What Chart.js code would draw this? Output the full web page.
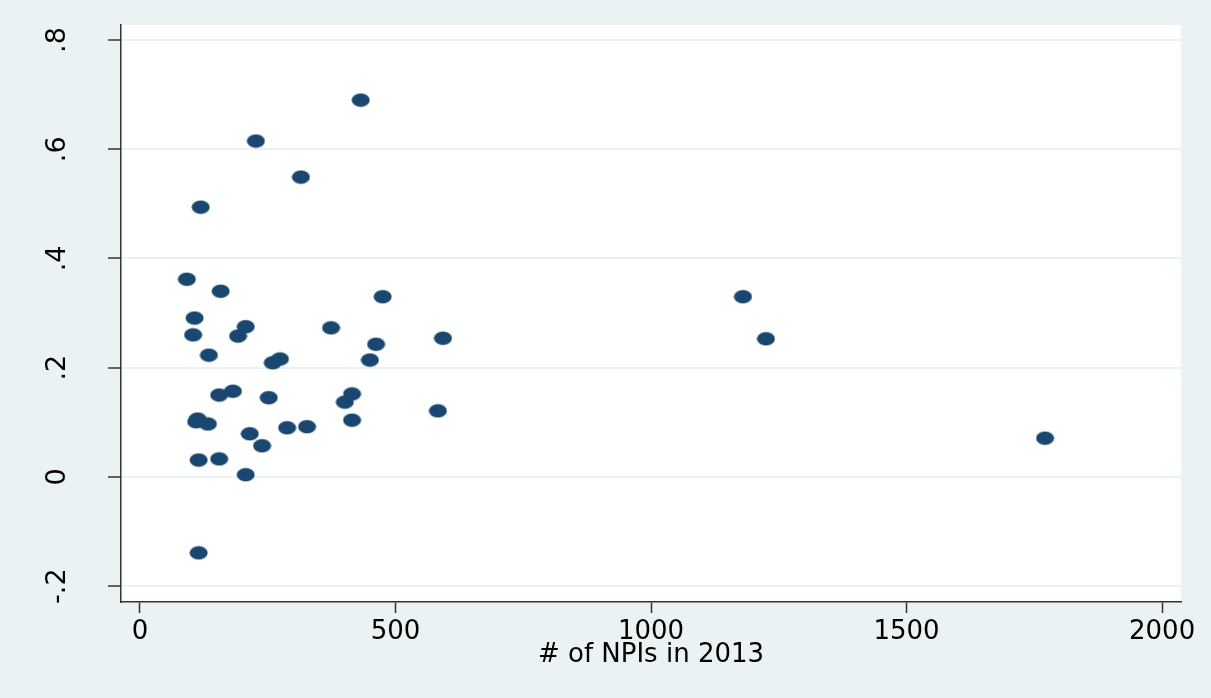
<!DOCTYPE html>
<html>
<head>
<meta charset="utf-8">
<script src="https://cdn.jsdelivr.net/npm/chart.js@4/dist/chart.umd.min.js"></script>
<style>
  html, body { margin: 0; padding: 0; background: #eaf2f3; }
  #wrap { width: 1211px; height: 698px; }
</style>
</head>
<body>
<div id="wrap"><canvas id="scatterChart"></canvas></div>
<script>
// values
const npis = [432, 227, 315, 119, 92, 158, 475, 1180, 107, 207, 374, 104,
    192, 593, 1225, 462, 135, 274, 450, 260, 182, 415, 155, 252, 401, 583,
    113, 415, 110, 133, 327, 288, 215, 239, 1771, 115, 155, 207, 115];
const shares = [0.690, 0.615, 0.549, 0.494, 0.362, 0.340, 0.330, 0.330,
    0.291, 0.275, 0.273, 0.260, 0.258, 0.254, 0.253, 0.243, 0.223, 0.216,
    0.214, 0.209, 0.157, 0.152, 0.150, 0.145, 0.137, 0.121, 0.106, 0.104,
    0.101, 0.097, 0.092, 0.090, 0.079, 0.057, 0.071, 0.031, 0.033, 0.004,
    -0.139];
const xTicks = [0, 500, 1000, 1500, 2000];
const yTicks = [-0.2, 0, 0.2, 0.4, 0.6, 0.8];
const xTitle = '# of NPIs in 2013';

const navy = '#1a476f';
const fontFamily = '"DejaVu Sans", sans-serif';

// stata style dots are a bit wider than tall
function ellipseDot() {
    const c = document.createElement('canvas');
    c.width = 19;
    c.height = 15;
    const g = c.getContext('2d');
    g.fillStyle = navy;
    g.beginPath();
    g.ellipse(9.5, 7.5, 9, 6.8, 0, 0, Math.PI * 2);
    g.fill();
    return c;
}

function stataNum(v) {
    if (v === 0) return '0';
    let s = String(Math.round(v * 10) / 10);
    return s.replace('0.', '.');
}

const plotBg = {
    id: 'plotBg',
    beforeDraw(chart) {
        const {ctx, chartArea} = chart;
        ctx.save();
        ctx.fillStyle = '#ffffff';
        ctx.fillRect(chartArea.left, chartArea.top,
            chartArea.right - chartArea.left, chartArea.bottom - chartArea.top);
        ctx.restore();
    }
};

document.addEventListener('DOMContentLoaded', function() {
    const points = npis.map((x, i) => ({x: x, y: shares[i]}));

    new Chart(document.getElementById('scatterChart').getContext('2d'), {
        type: 'scatter',
        data: {
            datasets: [{
                data: points,
                pointStyle: ellipseDot(),
                pointRadius: 9,
                pointHoverRadius: 9
            }]
        },
        options: {
            responsive: true,
            maintainAspectRatio: false,
            animation: false,
            layout: {
                padding: {left: 0, right: 30, top: 25, bottom: 0}
            },
            plugins: {
                legend: false,
                tooltip: {enabled: false}
            },
            scales: {
                x: {
                    type: 'linear',
                    min: -37,
                    max: 2037,
                    afterBuildTicks(scale) {
                        scale.ticks = xTicks.map(v => ({value: v}));
                    },
                    afterFit(scale) {
                        scale.height = 96;
                        scale.paddingLeft = 0;
                        scale.paddingRight = 0;
                    },
                    grid: {
                        drawOnChartArea: false,
                        drawTicks: true,
                        tickLength: 11,
                        tickColor: '#333333',
                        tickWidth: 1.5
                    },
                    border: {
                        display: true,
                        color: '#333333',
                        width: 1.5
                    },
                    ticks: {
                        color: '#000000',
                        padding: 4,
                        maxRotation: 0,
                        font: {family: fontFamily, size: 26},
                        callback: v => String(v)
                    },
                    title: {
                        display: true,
                        text: xTitle,
                        color: '#000000',
                        padding: {top: 0, bottom: 27},
                        font: {family: fontFamily, size: 26}
                    }
                },
                y: {
                    type: 'linear',
                    min: -0.229,
                    max: 0.8275,
                    afterBuildTicks(scale) {
                        scale.ticks = yTicks.map(v => ({value: v}));
                    },
                    afterFit(scale) {
                        scale.width = 121;
                        scale.paddingTop = 0;
                        scale.paddingBottom = 0;
                    },
                    grid: {
                        color: '#eaf2f3',
                        lineWidth: 2,
                        drawTicks: true,
                        tickLength: 13,
                        tickColor: '#333333',
                        tickWidth: 1.5
                    },
                    border: {
                        display: true,
                        color: '#333333',
                        width: 1.5
                    },
                    ticks: {
                        color: '#000000',
                        minRotation: 90,
                        maxRotation: 90,
                        crossAlign: 'center',
                        padding: 32,
                        font: {family: fontFamily, size: 27},
                        callback: v => stataNum(v)
                    }
                }
            }
        },
        plugins: [plotBg]
    });
});
</script>
</body>
</html>
